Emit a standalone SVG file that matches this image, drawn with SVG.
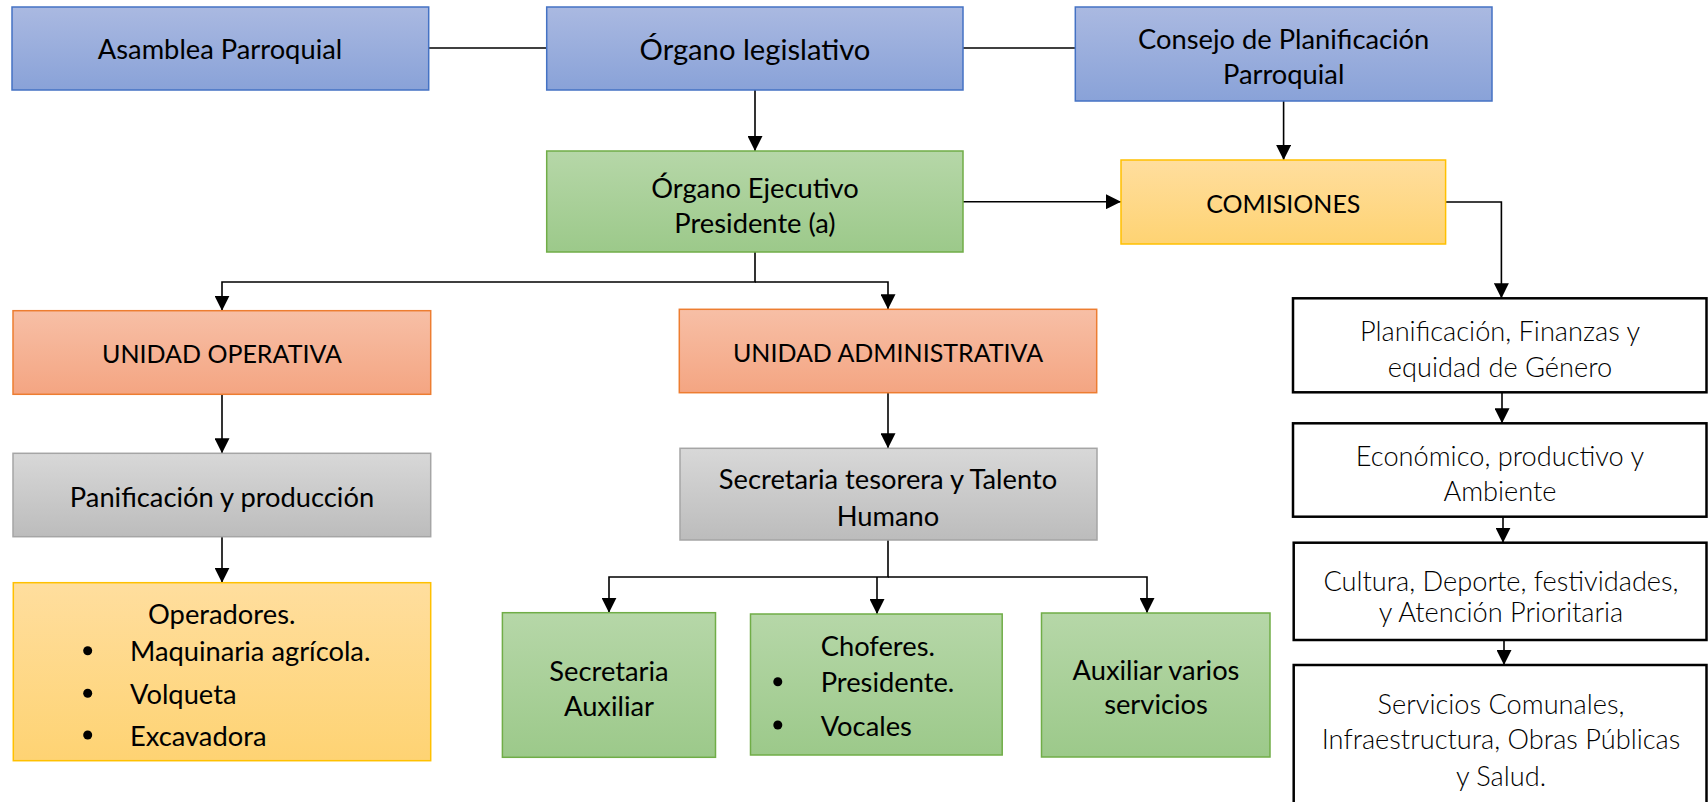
<svg xmlns="http://www.w3.org/2000/svg" width="1708" height="802" viewBox="0 0 1708 802">
<style>
.t{font-family:Lato,"Liberation Sans",sans-serif;font-size:27.3px;fill:#000;text-anchor:middle;dominant-baseline:central}
.cap{font-size:25px}
.l{text-anchor:start}
.lt{font-weight:300;font-size:27.2px}
.blue{fill:url(#gBlue);stroke:#4472C4;stroke-width:1.5}
.green{fill:url(#gGreen);stroke:#70AD47;stroke-width:1.5}
.orange{fill:url(#gOrange);stroke:#ED7D31;stroke-width:1.5}
.gray{fill:url(#gGray);stroke:#A5A5A5;stroke-width:1.5}
.yellow{fill:url(#gYellow);stroke:#FFC000;stroke-width:1.5}
.white{fill:#fff;stroke:#000;stroke-width:2.5}
.c{fill:none;stroke:#000;stroke-width:1.6}
.a{marker-end:url(#arr)}
</style>
<defs>
<linearGradient id="gBlue" x1="0" y1="0" x2="0" y2="1"><stop offset="0" stop-color="#AAB9E1"/><stop offset="1" stop-color="#89A2D8"/></linearGradient>
<linearGradient id="gGreen" x1="0" y1="0" x2="0" y2="1"><stop offset="0" stop-color="#B6D7A8"/><stop offset="1" stop-color="#9CC98A"/></linearGradient>
<linearGradient id="gOrange" x1="0" y1="0" x2="0" y2="1"><stop offset="0" stop-color="#F7BFA6"/><stop offset="1" stop-color="#F4A582"/></linearGradient>
<linearGradient id="gGray" x1="0" y1="0" x2="0" y2="1"><stop offset="0" stop-color="#D8D8D8"/><stop offset="1" stop-color="#BCBCBC"/></linearGradient>
<linearGradient id="gYellow" x1="0" y1="0" x2="0" y2="1"><stop offset="0" stop-color="#FFDE9E"/><stop offset="1" stop-color="#FED373"/></linearGradient>
<marker id="arr" markerUnits="userSpaceOnUse" markerWidth="15" markerHeight="15" refX="15" refY="7.5" orient="auto"><path d="M0,0 L15,7.5 L0,15 z" fill="#000"/></marker>
</defs>
<rect width="1708" height="802" fill="#fff"/>

<g id="connectors">
<line class="c" x1="428.7" y1="48" x2="546.7" y2="48"/>
<line class="c" x1="963" y1="48" x2="1075.3" y2="48"/>
<line class="c a" x1="755" y1="90" x2="755" y2="151"/>
<line class="c a" x1="1283.6" y1="101" x2="1283.6" y2="160"/>
<line class="c a" x1="963" y1="201.7" x2="1121" y2="201.7"/>
<polyline class="c a" points="1445.6,202 1501.4,202 1501.4,298.3"/>
<line class="c a" x1="1502" y1="392.3" x2="1502" y2="423.3"/>
<line class="c a" x1="1503" y1="516.7" x2="1503" y2="542.7"/>
<line class="c a" x1="1504" y1="640" x2="1504" y2="665"/>
<polyline class="c a" points="755,252 755,282 222,282 222,310.7"/>
<polyline class="c a" points="755,282 888,282 888,309.3"/>
<line class="c a" x1="222" y1="394.3" x2="222" y2="453.3"/>
<line class="c a" x1="222" y1="536.7" x2="222" y2="582.7"/>
<line class="c a" x1="888" y1="392.7" x2="888" y2="448.3"/>
<polyline class="c a" points="888,540 888,577 609,577 609,612.7"/>
<polyline class="c a" points="877,577 877,614"/>
<polyline class="c a" points="888,577 1147,577 1147,613"/>
</g>

<g id="asamblea"><rect class="blue" x="12" y="7" width="416.7" height="83"/><text class="t" x="220" y="48">Asamblea Parroquial</text></g>
<g id="legislativo"><rect class="blue" x="546.7" y="7" width="416.3" height="83"/><text class="t" x="755" y="48" style="font-size:29.2px">Órgano legislativo</text></g>
<g id="consejo"><rect class="blue" x="1075.3" y="7" width="416.7" height="94"/><text class="t" x="1283.7" y="38">Consejo de Planificación</text><text class="t" x="1283.7" y="73">Parroquial</text></g>
<g id="ejecutivo"><rect class="green" x="546.7" y="151" width="416.3" height="101"/><text class="t" x="755" y="187">Órgano Ejecutivo</text><text class="t" x="755" y="222">Presidente (a)</text></g>
<g id="comisiones"><rect class="yellow" x="1121" y="160" width="324.6" height="84"/><text class="t cap" x="1283.3" y="203">COMISIONES</text></g>
<g id="unidad-operativa"><rect class="orange" x="13" y="310.7" width="417.7" height="83.6"/><text class="t cap" x="222" y="353">UNIDAD OPERATIVA</text></g>
<g id="unidad-administrativa"><rect class="orange" x="679.3" y="309.3" width="417.4" height="83.4"/><text class="t cap" x="888" y="352">UNIDAD ADMINISTRATIVA</text></g>
<g id="panificacion"><rect class="gray" x="13" y="453.3" width="417.7" height="83.4"/><text class="t" x="222" y="496.7">Panificación y producción</text></g>
<g id="secretaria-tesorera"><rect class="gray" x="680" y="448.3" width="417" height="91.7"/><text class="t" x="888" y="478">Secretaria tesorera y Talento</text><text class="t" x="888" y="515">Humano</text></g>
<g id="operadores"><rect class="yellow" x="13.3" y="582.7" width="417.4" height="178"/><text class="t" x="221.7" y="613.3">Operadores.</text>
<circle cx="87.7" cy="650.7" r="4.5"/><text class="t l" x="130" y="650.7">Maquinaria agrícola.</text>
<circle cx="87.7" cy="693.3" r="4.5"/><text class="t l" x="130" y="693.3">Volqueta</text>
<circle cx="87.7" cy="735" r="4.5"/><text class="t l" x="130" y="735">Excavadora</text></g>
<g id="secretaria-auxiliar"><rect class="green" x="502.4" y="612.7" width="213.1" height="144.6"/><text class="t" x="609" y="670">Secretaria</text><text class="t" x="609" y="705.7">Auxiliar</text></g>
<g id="choferes"><rect class="green" x="750.5" y="614" width="251.7" height="141"/><text class="t l" x="820.7" y="645">Choferes.</text>
<circle cx="777.8" cy="681.7" r="4.5"/><text class="t l" x="820.7" y="681.7">Presidente.</text>
<circle cx="777.8" cy="725" r="4.5"/><text class="t l" x="820.7" y="725">Vocales</text></g>
<g id="auxiliar-varios"><rect class="green" x="1041.5" y="613" width="228.5" height="144"/><text class="t" x="1156" y="669">Auxiliar varios</text><text class="t" x="1156" y="703">servicios</text></g>
<g id="planificacion-finanzas"><rect class="white" x="1293" y="298.3" width="413.5" height="94"/><text class="t lt" x="1500" y="330">Planificación, Finanzas y</text><text class="t lt" x="1500" y="366">equidad de Género</text></g>
<g id="economico"><rect class="white" x="1293" y="423.3" width="413.5" height="93.4"/><text class="t lt" x="1500" y="455">Económico, productivo y</text><text class="t lt" x="1500" y="490">Ambiente</text></g>
<g id="cultura"><rect class="white" x="1293.7" y="542.7" width="412.8" height="97.3"/><text class="t lt" x="1501" y="580">Cultura, Deporte, festividades,</text><text class="t lt" x="1501" y="611">y Atención Prioritaria</text></g>
<g id="servicios"><rect class="white" x="1293.7" y="665" width="412.8" height="160"/><text class="t lt" x="1501" y="703">Servicios Comunales,</text><text class="t lt" x="1501" y="738">Infraestructura, Obras Públicas</text><text class="t lt" x="1501" y="775">y Salud.</text></g>
</svg>
